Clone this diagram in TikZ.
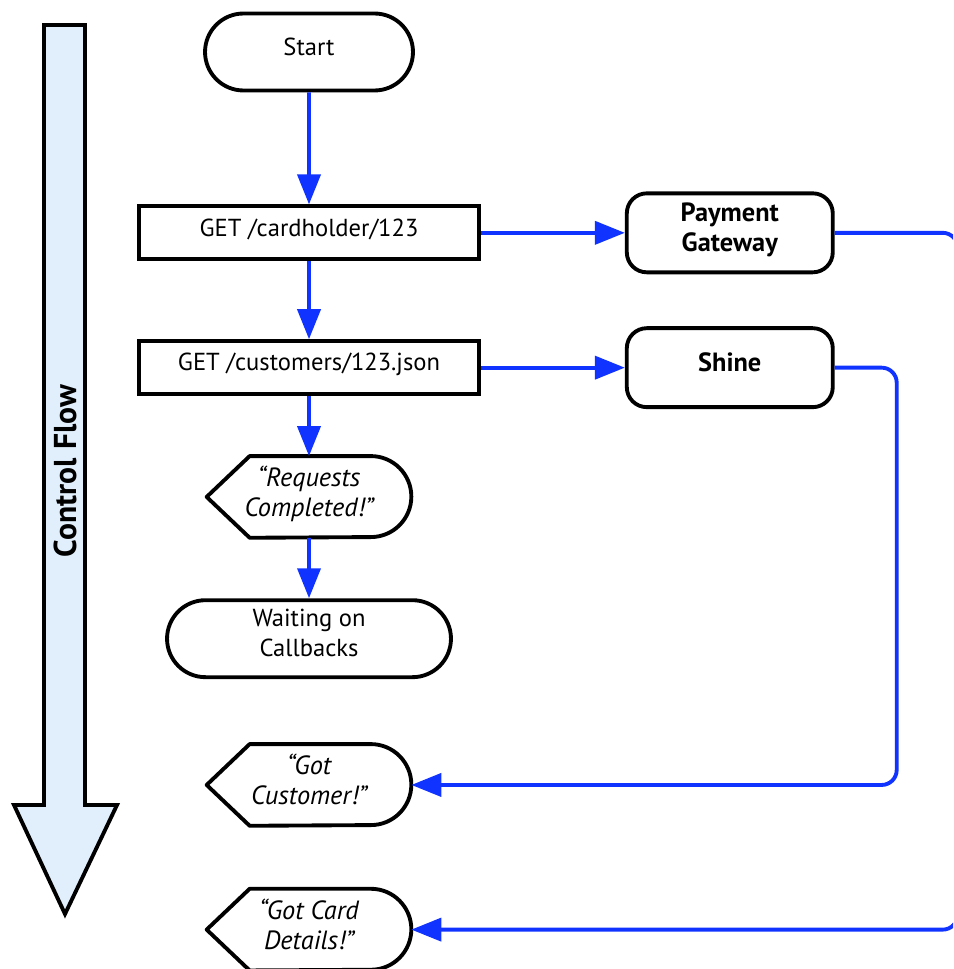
\documentclass[tikz,border=0pt]{standalone}
\usepackage{fontspec}
\setmainfont{PT Sans}
\usetikzlibrary{positioning,shapes.misc,arrows.meta}
\definecolor{flowblue}{RGB}{17,51,255}
\definecolor{flowfill}{RGB}{225,239,252}

\begin{document}
\begin{tikzpicture}[x=0.02cm, y=0.02cm,
    every node/.style={font=\fontsize{14}{17}\selectfont, align=center, text depth=0.22cm},
    startstop/.style={rounded rectangle, draw, line width=\boxlinewidth, minimum height=1.54cm, inner sep=0pt},
    callbox/.style={rectangle, draw, line width=\boxlinewidth, minimum width=6.8cm, minimum height=1.06cm, inner sep=0pt},
    service/.style={rectangle, draw, rounded corners=0.4cm, line width=\boxlinewidth, minimum width=4.12cm, minimum height=1.58cm, inner sep=0pt, font=\fontsize{15}{17}\selectfont\bfseries},
    display/.style={minimum width=4.08cm, minimum height=1.62cm, inner sep=0pt, font=\fontsize{15}{17}\selectfont\itshape},
    flow/.style={draw=flowblue, line width=\flowlinewidth, -{Triangle[length=0.6cm, width=0.46cm]}}]
        \def\boxlinewidth{2.2pt}
        \def\flowlinewidth{2.2pt}
        % outline of a display box: pointed left end, round right end
        \def\dispshape#1{\draw[line width=\boxlinewidth, line join=round] (#1.west) -- ([xshift=0.86cm]#1.north west) -- ([xshift=-0.81cm]#1.north east) arc[start angle=90, end angle=-90, radius=0.81cm] -- ([xshift=0.86cm]#1.south west) -- cycle;}

        \useasboundingbox (0,0) rectangle (953,-969);
        \clip (0,0) rectangle (953,-969);

        % control flow arrow
        \draw[line width=\boxlinewidth, fill=flowfill] (44,-25) -- (85,-25) -- (85,-805) -- (117,-805) -- (65,-914) -- (14,-805) -- (44,-805) -- cycle;
        \node[rotate=90, text depth=0pt, font=\fontsize{18}{20}\selectfont\bfseries] (flowlabel) at (65,-471) {Control Flow};

        \node[startstop, minimum width=4.16cm] (start) at (309,-52) {Start};
        \node[callbox, below=2.24cm of start] (cardget) {GET /cardholder/123};
        \node[service, right=2.88cm of cardget] (gateway) {Payment\\Gateway};
        \node[callbox, below=1.56cm of cardget] (custget) {GET /customers/123.json};
        \node[service, right=2.88cm of custget] (shine) {Shine};
        \node[display, below=1.2cm of custget] (reqdone) {“Requests\\Completed!”};
        \node[startstop, minimum width=5.68cm, below=1.21cm of reqdone] (waiting) {Waiting on\\Callbacks};
        \node[display, below=1.3cm of waiting] (gotcust) {“Got\\Customer!”};
        \node[display, below=1.26cm of gotcust] (gotcard) {“Got Card\\Details!”};
        \dispshape{reqdone}
        \dispshape{gotcust}
        \dispshape{gotcard}

        \draw[flow] (start) -- (cardget);
        \draw[flow] (cardget) -- (custget);
        \draw[flow] (custget) -- (reqdone);
        \draw[flow] (reqdone) -- (waiting);
        \draw[flow] (cardget) -- (gateway);
        \draw[flow] (custget) -- (shine);
        \draw[flow, rounded corners=0.3cm] (shine.east) -- ++(62,0) |- (gotcust.east);
        \draw[flow, rounded corners=0.3cm] (gateway.east) -- ++(123,0) |- (gotcard.east);
    \end{tikzpicture}
\end{document}
